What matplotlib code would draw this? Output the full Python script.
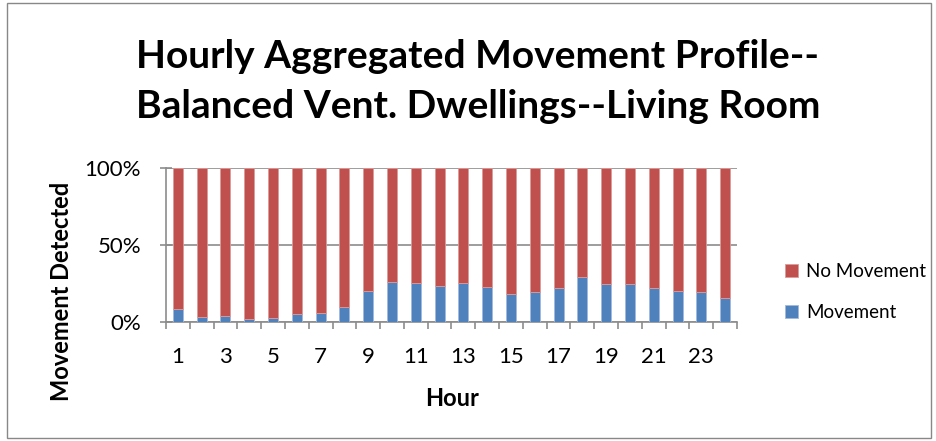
import matplotlib
matplotlib.use("Agg")
import matplotlib.pyplot as plt
import numpy as np
from matplotlib.patches import Rectangle

plt.rcParams['font.family'] = ['Lato', 'DejaVu Sans']

# data (share of hours with movement detected, %)
hours = list(range(1, 25))
movement = [8.7, 3.5, 3.7, 2.2, 2.4, 5.4, 5.6, 9.5, 20.4, 26.0, 25.4, 23.5,
            25.4, 22.8, 18.3, 19.6, 22.2, 29.5, 25.0, 25.0, 21.9, 20.4, 19.8, 15.9]
no_movement = [100 - m for m in movement]
tick_labels = [str(h) if h % 2 == 1 else '' for h in hours]

blue = '#4F81BD'
red = '#C0504D'

W, H = 937, 441
fig = plt.figure(figsize=(W / 100, H / 100), dpi=100)

# chart border
fig.patches.append(Rectangle((7 / W, 3 / H), 924 / W, 435 / H, transform=fig.transFigure,
                             fill=False, edgecolor='#888888', linewidth=1.0))

ax = fig.add_axes([166 / W, 1 - 322 / H, (737 - 166) / W, (322 - 168) / H])
x = np.arange(len(hours))
ax.bar(x, movement, width=0.42, color=blue, edgecolor='#9fb9dd', linewidth=0.6, zorder=3, label='Movement')
ax.bar(x, no_movement, bottom=movement, width=0.42, color=red, edgecolor='#dc9a98', linewidth=0.6,
       zorder=3, label='No Movement')

ax.set_xlim(-0.5, len(hours) - 0.5)
ax.set_ylim(0, 100)
ax.set_yticks([0, 50, 100])
ax.set_yticklabels(['0%', '50%', '100%'], fontsize=16)
ax.yaxis.grid(True, color='#8c8c8c', linewidth=1.2, zorder=0)
ax.tick_params(axis='y', direction='inout', length=8, color='#8c8c8c', width=1.2, pad=14)

# category ticks between bars, labels on odd hours
ax.set_xticks(np.arange(-0.5, len(hours), 1.0), minor=False)
ax.set_xticklabels([])
ax.set_xticks(x, minor=True)
ax.set_xticklabels(tick_labels, minor=True, fontsize=16)
ax.tick_params(axis='x', which='major', direction='out', length=5, color='#8c8c8c', width=1.2)
ax.tick_params(axis='x', which='minor', length=0, pad=18)

for s in ['top', 'right']:
    ax.spines[s].set_visible(False)
for s in ['left', 'bottom']:
    ax.spines[s].set_color('#8c8c8c')
    ax.spines[s].set_linewidth(1.2)

fig.text(478 / W, 1 - 57 / H, 'Hourly Aggregated Movement Profile--', ha='center', va='center',
         fontsize=28, fontweight='bold')
fig.text(478 / W, 1 - 106 / H, 'Balanced Vent. Dwellings--Living Room', ha='center', va='center',
         fontsize=28, fontweight='bold')

fig.text(62 / W, 1 - 291 / H, 'Movement Detected', rotation=90, ha='center', va='center',
         fontsize=17, fontweight='bold')
fig.text(452 / W, 1 - 398 / H, 'Hour', ha='center', va='center', fontsize=17, fontweight='bold')

handles, labels = ax.get_legend_handles_labels()
fig.legend(handles[::-1], labels[::-1], loc='center left', bbox_to_anchor=(768 / W, 1 - 292 / H),
           frameon=False, fontsize=13.5, handlelength=0.7, handleheight=0.7, labelspacing=1.3,
           handletextpad=0.45)

fig.savefig('out.png', dpi=100)
